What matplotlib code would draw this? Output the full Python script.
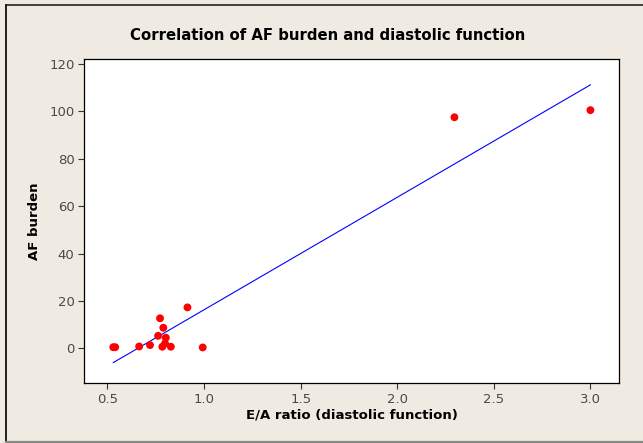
import numpy as np
import matplotlib
matplotlib.use("Agg")
import matplotlib.pyplot as plt
from matplotlib.lines import Line2D

# E/A ratio vs. AF burden for each patient
ea_ratio = [0.53, 0.54, 0.664, 0.72, 0.762, 0.772, 0.789, 0.802, 0.784,
            0.798, 0.828, 0.914, 0.993, 2.296, 3.0]
af_burden = [0.5, 0.5, 0.8, 1.4, 5.3, 12.7, 8.7, 4.5, 0.7,
             2.1, 0.7, 17.3, 0.4, 97.5, 100.5]

x_ticks = [0.5, 1.0, 1.5, 2.0, 2.5, 3.0]
y_ticks = [0, 20, 40, 60, 80, 100, 120]

title = "Correlation of AF burden and diastolic function"
x_label = "E/A ratio (diastolic function)"
y_label = "AF burden"

bg = "#efebe2"
W, H = 643, 443
fig = plt.figure(figsize=(W / 100, H / 100), dpi=100, facecolor=bg)
ax = fig.add_axes([84.3 / W, 1 - 383 / H, (619 - 84.3) / W, (383 - 58.7) / H])
ax.set_facecolor("white")

# least-squares fit line across the observed range
x = np.array(ea_ratio)
y = np.array(af_burden)
slope, intercept = np.polyfit(x, y, 1)
xf = np.array([x.min(), x.max()])
ax.plot(xf, slope * xf + intercept, color="#0000ff", lw=0.8, zorder=2)

ax.scatter(x, y, s=32, color="#ff0000", edgecolors="none", zorder=3)

ax.set_xlim(0.380, 3.148)
ax.set_ylim(-14.6, 122.2)
ax.set_xticks(x_ticks)
ax.set_xticklabels([f"{v:.1f}" for v in x_ticks])
ax.set_yticks(y_ticks)
ax.set_yticklabels([str(v) for v in y_ticks])

for s in ax.spines.values():
    s.set_color("black")
    s.set_linewidth(0.9)

ax.tick_params(direction="out", length=4, width=0.8, color="#333333",
               labelcolor="#4a4a4a", labelsize=9.5, pad=3)

ax.set_xlabel(x_label, fontsize=9.5, fontweight="bold", labelpad=2)
ax.set_ylabel(y_label, fontsize=9.5, fontweight="bold", labelpad=6)
fig.text(0.5 * (134 + 521) / W, 1 - 36 / H, title, ha="center", va="center",
         fontsize=10.7, fontweight="bold")

# outer frame
fig.add_artist(Line2D([5.5 / W, 1], [1 - 4.8 / H, 1 - 4.8 / H],
                      transform=fig.transFigure, color="#404040", lw=1.4))
fig.add_artist(Line2D([5.5 / W, 5.5 / W], [0, 1 - 4.8 / H],
                      transform=fig.transFigure, color="#202020", lw=1.4))
fig.add_artist(Line2D([5.5 / W, 1], [1.5 / H, 1.5 / H],
                      transform=fig.transFigure, color="#8a8a84", lw=1.6))

fig.savefig("out.png", dpi=100, facecolor=bg)
